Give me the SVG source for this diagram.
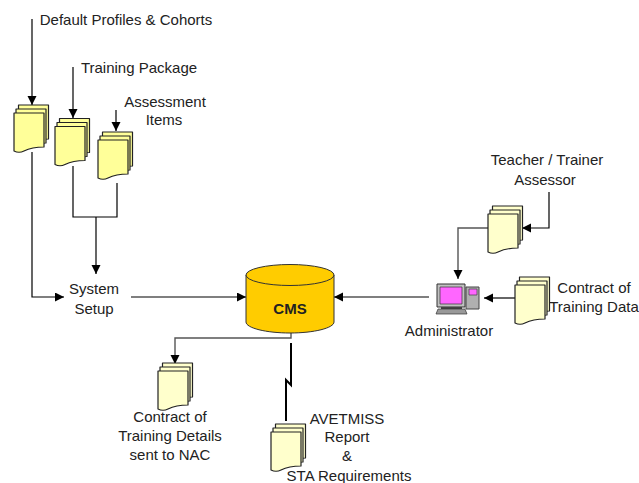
<svg xmlns="http://www.w3.org/2000/svg" width="639" height="483" viewBox="0 0 639 483">
<style>
text{font-family:"Liberation Sans",Arial,sans-serif;font-size:15px;fill:#222;text-anchor:middle}
.c{fill:none;stroke:#000;stroke-width:1.2}
.g{fill:none;stroke:#555;stroke-width:1.4}
.s{stroke:#222;stroke-width:1.2;stroke-linejoin:round}
.y{fill:#ffff99}.p{fill:#ffffcc}
</style>
<defs>
<path id="sheet" d="M0 0H30V34C22 34 16 35 10 38C6 40 3 39.500 0 38Z"/>
<g id="stack"><use href="#sheet" x="4.500" y="-8"/><use href="#sheet" x="2" y="-4"/><use href="#sheet"/></g>
<marker id="a" markerUnits="userSpaceOnUse" markerWidth="10" markerHeight="10" refX="9" refY="4.500" orient="auto"><path d="M0 0L9 4.500L0 9Z" fill="#000"/></marker>
</defs>
<g id="connectors">
<path class="c" d="M32 19V105" marker-end="url(#a)"/>
<path class="c" d="M73 67V118" marker-end="url(#a)"/>
<path class="c" d="M116 110V131" marker-end="url(#a)"/>
<path class="c" d="M32 152V297H64" marker-end="url(#a)"/>
<path class="c" d="M73 166V217H117V183"/>
<path class="c" d="M96 217V274" marker-end="url(#a)"/>
<path class="c" d="M131 297H246" marker-end="url(#a)"/>
<path class="c" d="M429 297H334" marker-end="url(#a)"/>
<path class="c" d="M549 192V228H522" marker-end="url(#a)"/>
<path class="g" d="M488 228H458V279" marker-end="url(#a)"/>
<path class="c" d="M515 298H484" marker-end="url(#a)"/>
<path class="g" d="M291 333V338H175V364" marker-end="url(#a)"/>
<path d="M291 343V385L286 380V421" fill="none" stroke="#000" stroke-width="2"/>
</g>
<g id="doc-default-profiles"><use href="#stack" class="s y" x="14" y="113"/></g>
<g id="doc-training-package"><use href="#stack" class="s y" x="55" y="126.500"/></g>
<g id="doc-assessment-items"><use href="#stack" class="s y" x="98" y="140"/></g>
<g id="doc-teacher"><use href="#stack" class="s p" x="488" y="214"/></g>
<g id="doc-contract-data"><use href="#stack" class="s p" x="515" y="285"/></g>
<g id="doc-contract-details"><use href="#stack" class="s p" x="158" y="371"/></g>
<g id="doc-avetmiss"><use href="#stack" class="s p" x="271" y="432"/></g>
<g id="label-default"><text x="126" y="25">Default Profiles &amp; Cohorts</text></g>
<g id="label-training"><text x="139" y="73">Training Package</text></g>
<g id="label-assessment"><text x="165" y="107">Assessment</text><text x="164" y="125">Items</text></g>
<g id="node-system-setup"><text x="94" y="294">System</text><text x="94" y="314">Setup</text></g>
<g id="node-cms">
<path d="M246 275V322C246 328 266 333 290 333S334 328 334 322V275Z" fill="#ffcc00" stroke="#333" stroke-width="1"/>
<ellipse cx="290" cy="275" rx="44" ry="10.500" fill="#ffcc00" stroke="#333" stroke-width="1"/>
<text x="290" y="314" style="font-weight:bold;font-size:15px">CMS</text>
</g>
<g id="node-administrator">
<path d="M466 287H479V309H466Z" fill="#b0b0b0" stroke="#444"/>
<path d="M469 289H477V295H469Z" fill="#ff66ff" stroke="#444" stroke-width=".7"/>
<path d="M437 284H465V307H437Z" fill="#c0c0c0" stroke="#333"/>
<path d="M440 287H462V304H440Z" fill="#ff66ff" stroke="#333" stroke-width=".7"/>
<path d="M441 307H462V309H441Z" fill="#444"/>
<path d="M436 314L438 309H465L467 314Z" fill="#999" stroke="#333" stroke-width=".7"/>
<text x="449" y="336">Administrator</text>
</g>
<g id="label-teacher"><text x="547" y="165">Teacher / Trainer</text><text x="545" y="185">Assessor</text></g>
<g id="label-contract-data"><text x="594" y="293">Contract of</text><text x="594" y="312">Training Data</text></g>
<g id="label-contract-details"><text x="170" y="422">Contract of</text><text x="170" y="441">Training Details</text><text x="170" y="460">sent to NAC</text></g>
<g id="label-avetmiss"><text x="347" y="424">AVETMISS</text><text x="347" y="442">Report</text><text x="347" y="461">&amp;</text><text x="349" y="481">STA Requirements</text></g>
</svg>
